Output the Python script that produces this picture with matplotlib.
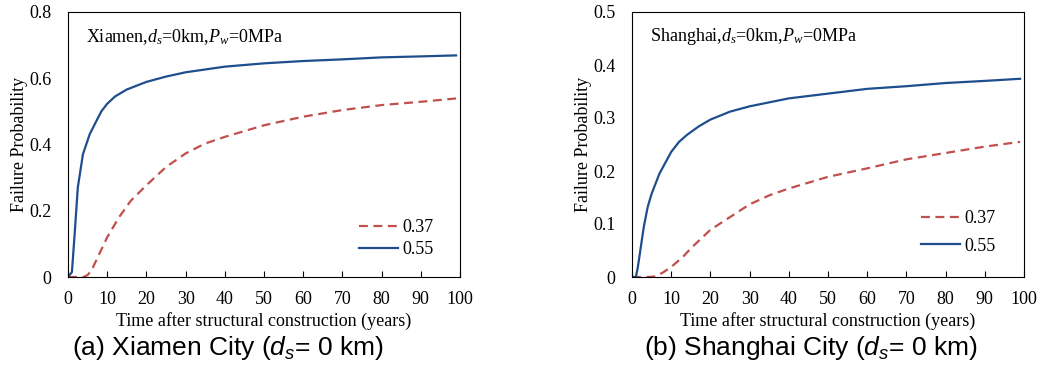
"""Failure probability vs time after construction: Xiamen and Shanghai."""

import matplotlib
matplotlib.use("Agg")
import matplotlib.pyplot as plt

plt.rcParams["font.family"] = ["Liberation Serif", "DejaVu Serif"]
plt.rcParams["mathtext.fontset"] = "custom"
plt.rcParams["mathtext.it"] = "Liberation Serif:italic"
plt.rcParams["mathtext.rm"] = "Liberation Serif"
plt.rcParams["mathtext.sf"] = "Liberation Sans:italic"

# Xiamen
xm_t_055 = [0, 1, 1.7, 2.5, 3.8, 5.5, 7.2, 8.5, 10, 12, 15, 20, 25, 30, 40, 50, 60, 70, 80, 90, 99]
xm_p_055 = [0, 0.015, 0.13, 0.27, 0.37, 0.43, 0.47, 0.5, 0.523, 0.545, 0.566, 0.589, 0.605,
            0.618, 0.635, 0.645, 0.652, 0.657, 0.663, 0.666, 0.669]
xm_t_037 = [0, 4, 5, 6, 8, 10, 13, 16, 20, 25, 30, 35, 40, 50, 60, 70, 80, 90, 99]
xm_p_037 = [0, 0, 0.006, 0.02, 0.07, 0.12, 0.18, 0.23, 0.277, 0.332, 0.373, 0.403, 0.423,
            0.458, 0.484, 0.504, 0.519, 0.529, 0.539]

# Shanghai
sh_t_055 = [0, 1, 1.5, 2, 3, 4, 5, 7, 10, 12, 14, 17, 20, 25, 30, 40, 50, 60, 70, 80, 90, 99]
sh_p_055 = [0, 0, 0.019, 0.044, 0.094, 0.132, 0.157, 0.195, 0.236, 0.255, 0.268, 0.284,
            0.297, 0.312, 0.322, 0.337, 0.346, 0.355, 0.36, 0.366, 0.37, 0.374]
sh_t_037 = [0, 4, 6, 8, 10, 13, 15, 20, 25, 30, 35, 40, 45, 50, 60, 70, 80, 90, 99]
sh_p_037 = [0, 0, 0.001, 0.009, 0.019, 0.038, 0.054, 0.089, 0.113, 0.137, 0.154, 0.167,
            0.178, 0.189, 0.205, 0.222, 0.234, 0.246, 0.255]

RED = "#C0504D"
BLUE = "#1F4E8C"

fig = plt.figure(figsize=(10.43, 3.65), dpi=100)
W, H = 1043, 365
ax1 = fig.add_axes([68 / W, (H - 277) / H, 392 / W, 265 / H])
ax2 = fig.add_axes([632 / W, (H - 277) / H, 392 / W, 265 / H])

panels = [
    (ax1, xm_t_037, xm_p_037, xm_t_055, xm_p_055, 0.8, [0, 0.2, 0.4, 0.6, 0.8],
     "Xiamen,$d_s$=0km,$P_w$=0MPa", (0.95, 0.045), 0.25),
    (ax2, sh_t_037, sh_p_037, sh_t_055, sh_p_055, 0.5, [0, 0.1, 0.2, 0.3, 0.4, 0.5],
     "Shanghai,$d_s$=0km,$P_w$=0MPa", (0.945, 0.057), 0.6),
]

for ax, t37, p37, t55, p55, ymax, yticks, note, leg_at, leg_sp in panels:
    ax.plot(t37, p37, color=RED, lw=1.6, ls=(0, (4, 2.5)), label="0.37")
    ax.plot(t55, p55, color=BLUE, lw=1.6, label="0.55")
    ax.set_xlim(0, 100)
    ax.set_ylim(0, ymax)
    ax.set_xticks(range(0, 101, 10))
    ax.set_yticks(yticks)
    ax.set_yticklabels(["0" if v == 0 else f"{v:.1f}" for v in yticks])
    ax.tick_params(axis="x", direction="in", length=4, labelsize=13, pad=10)
    ax.tick_params(axis="y", length=0, labelsize=13, pad=12)
    ax.set_xlabel("Time after structural construction (years)", fontsize=13, labelpad=3)
    ax.set_ylabel("Failure Probability", fontsize=13, labelpad=1)
    ax.text(0.046, 0.906, note, transform=ax.transAxes, fontsize=13, va="center")
    ax.legend(loc="lower right", bbox_to_anchor=leg_at, frameon=False, fontsize=13,
              handlelength=2.2, handletextpad=0.2, labelspacing=leg_sp, borderaxespad=0)

fig.text(228 / W, 1 - 348 / H, "(a) Xiamen City ($\\mathsf{d_s}$= 0 km)",
         family="Liberation Sans", fontsize=19, ha="center", va="center")
fig.text(811 / W, 1 - 348 / H, "(b) Shanghai City ($\\mathsf{d_s}$= 0 km)",
         family="Liberation Sans", fontsize=19, ha="center", va="center")

fig.savefig("out.png", dpi=100)
